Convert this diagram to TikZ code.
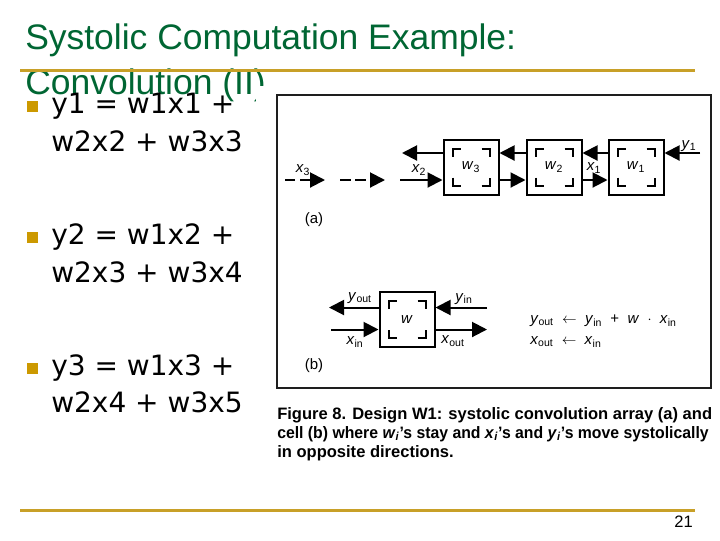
\documentclass[tikz,border=0pt]{standalone}
\usepackage{fontspec}
\usepackage{graphicx}
\setmainfont{Liberation Sans}
\newfontfamily\bulletfont{DejaVu Sans}
\usetikzlibrary{arrows.meta,calc}

% corner brackets inside a cell
\newcommand{\cellmarks}[1]{%
  \draw[cellmark] ($(#1.north west)+(10,18)$) -- ++(0,-8) -- ++(8,0);
  \draw[cellmark] ($(#1.north east)+(-18,10)$) -- ++(8,0) -- ++(0,8);
  \draw[cellmark] ($(#1.south west)+(10,-18)$) -- ++(0,8) -- ++(8,0);
  \draw[cellmark] ($(#1.south east)+(-18,-10)$) -- ++(8,0) -- ++(0,-8);
}

\begin{document}
\begin{tikzpicture}[x=0.75pt,y=0.75pt,yscale=-1,xscale=1,
  title/.style={anchor=base west, inner sep=0pt, color={rgb, 255:red, 0; green, 102; blue, 51 }, font=\fontsize{26.6}{32}\selectfont},
  rule/.style={draw={rgb, 255:red, 200; green, 160; blue, 40 }, line width=2.25pt},
  bullet/.style={fill={rgb, 255:red, 204; green, 153; blue, 0 }, inner sep=0pt, minimum size=8.25pt},
  item/.style={anchor=base west, inner sep=0pt, font=\bulletfont\fontsize{21}{25}\selectfont},
  cell/.style={draw, line width=1.5pt, minimum size=41.25pt, inner sep=0pt, font=\fontsize{11.25}{13}\selectfont},
  cellmark/.style={line width=1.5pt},
  flow/.style={line width=1.5pt, -{Triangle[length=11.25pt,width=11.25pt]}},
  lbl/.style={inner sep=0pt, font=\fontsize{11.25}{13}\selectfont},
  captext/.style={anchor=base west, inner sep=0pt, font=\bfseries\fontsize{12.4}{15}\selectfont}]
%set diagram to the size of the slide
\useasboundingbox (0,0) rectangle (720,540);

% Title
\node[title] (t1) at (25,49.5) {Systolic Computation Example:};
\node[title] (t2) at (25,94) {Convolution (II)};
\draw[rule] (20,70.5) -- (695,70.5);
\draw[rule] (20,510) -- (695,510);

% Bullets
\node[bullet] (b1) at (32.5,106.5) {};
\node[item] (l11) at (51,113) {y1 = w1x1 +};
\node[item] (l12) at (51,151) {w2x2 + w3x3};
\node[bullet] (b2) at (32.5,237.5) {};
\node[item] (l21) at (51,244) {y2 = w1x2 +};
\node[item] (l22) at (51,282) {w2x3 + w3x4};
\node[bullet] (b3) at (32.5,368.5) {};
\node[item] (l31) at (51,375) {y3 = w1x3 +};
\node[item] (l32) at (51,412) {w2x4 + w3x5};

% Figure frame
\fill[white] (256,86) rectangle (714,392);
\draw[line width=1.1pt, color={rgb, 255:red, 30; green, 30; blue, 30 }] (277,95) rectangle (711,388);

% (a) systolic array
\node[cell] (A) at (471,167) {\textit{w}\textsubscript{3}};
\node[cell] (B) at (554,167) {\textit{w}\textsubscript{2}};
\node[cell] (C) at (636,167) {\textit{w}\textsubscript{1}};
\cellmarks{A}
\cellmarks{B}
\cellmarks{C}
\coordinate (toprow) at (0,153);
\coordinate (botrow) at (0,180);
\coordinate (yin) at (700,153);
\coordinate (yend) at (402,153);
\coordinate (xin) at (400,180);
\draw[flow] (yin) -- (C.east |- toprow);
\draw[flow] (C.west |- toprow) -- (B.east |- toprow);
\draw[flow] (B.west |- toprow) -- (A.east |- toprow);
\draw[flow] (A.west |- toprow) -- (yend);
\draw[flow] (xin) -- (A.west |- botrow);
\draw[flow] (A.east |- botrow) -- (B.west |- botrow);
\draw[flow] (B.east |- botrow) -- (C.west |- botrow);
\draw[flow, dash pattern=on 7.5pt off 3.75pt] (285,180) -- (325,180);
\draw[flow, dash pattern=on 8pt off 3.5pt] (340,180) -- (385,180);
\node[lbl] (x3) at (303,170) {\textit{x}\textsubscript{3}};
\node[lbl] (x2) at (419,170) {\textit{x}\textsubscript{2}};
\node[lbl] (x1) at (594,168) {\textit{x}\textsubscript{1}};
\node[lbl] (y1) at (689,146) {\textit{y}\textsubscript{1}};
\node[lbl] (pa) at (314,220) {(a)};

% (b) cell
\node[cell] (W) at (407,319.5) {\textit{w}};
\cellmarks{W}
\coordinate (toprowb) at (0,307.5);
\coordinate (botrowb) at (0,329.5);
\coordinate (yinb) at (487,307.5);
\coordinate (youtb) at (329,307.5);
\coordinate (xinb) at (331,329.5);
\coordinate (xoutb) at (487,329.5);
\draw[flow] (yinb) -- (W.east |- toprowb);
\draw[flow] (W.west |- toprowb) -- (youtb);
\draw[flow] (xinb) -- (W.west |- botrowb);
\draw[flow] (W.east |- botrowb) -- (xoutb);
\node[lbl] (lyout) at (360,298) {\textit{y}\textsubscript{out}};
\node[lbl] (lyin) at (464,299) {\textit{y}\textsubscript{in}};
\node[lbl] (lxin) at (355,342) {\textit{x}\textsubscript{in}};
\node[lbl] (lxout) at (453,341) {\textit{x}\textsubscript{out}};
\node[lbl, anchor=west] (eq1) at (530,321) {\textit{y}\textsubscript{out}\ \ $\leftarrow$\ \ \textit{y}\textsubscript{in}\ \ +\ \ \textit{w}\ \ $\cdot$\ \ \textit{x}\textsubscript{in}};
\node[lbl, anchor=west] (eq2) at (530,342) {\textit{x}\textsubscript{out}\ \ $\leftarrow$\ \ \textit{x}\textsubscript{in}};
\node[lbl] (pb) at (314,366) {(b)};

% Caption
\node[captext] (c1) at (277,419) {Figure 8. Design W1: systolic convolution array (a) and};
\node[captext] (c2) at (277,438) {\scalebox{0.955}[1]{cell (b) where \textit{w}\textsubscript{\textit{i}}'s stay and \textit{x}\textsubscript{\textit{i}}'s and \textit{y}\textsubscript{\textit{i}}'s move systolically}};
\node[captext] (c3) at (277,457) {in opposite directions.};

% Page number
\node[anchor=base east, inner sep=0pt, font=\fontsize{12.4}{15}\selectfont] (pg) at (693,527) {21};

\end{tikzpicture}
\end{document}
